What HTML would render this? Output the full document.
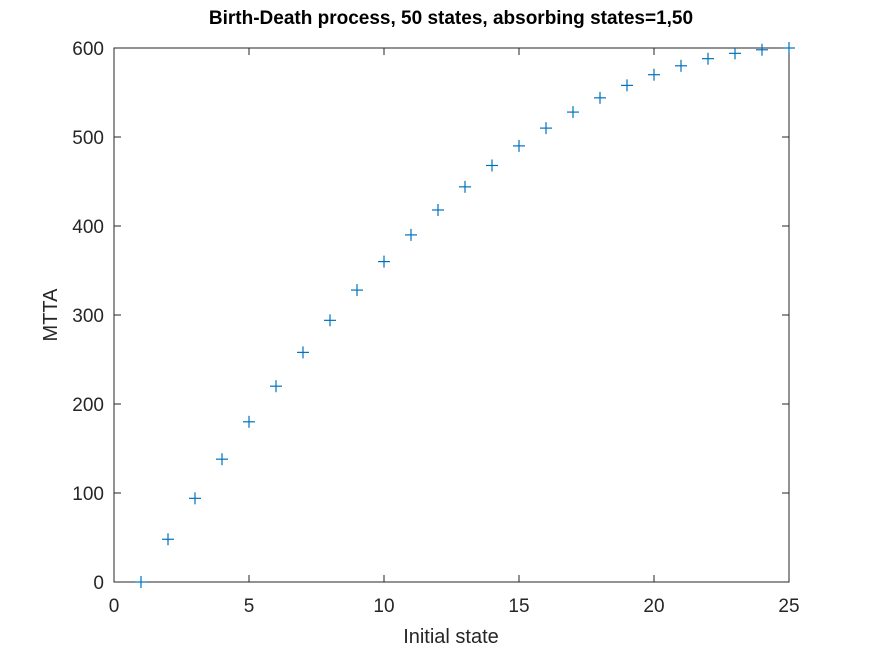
<!DOCTYPE html>
<html><head><meta charset="utf-8"><style>
body{margin:0;background:#fff;}
svg{font-family:"Liberation Sans",sans-serif;display:block;}
</style></head><body>
<svg id="c" width="872" height="654"></svg>
<script>
const states=[1,2,3,4,5,6,7,8,9,10,11,12,13,14,15,16,17,18,19,20,21,22,23,24,25];
const mtta=[0,48,94,138,180,220,258,294,328,360,390,418,444,468,490,510,528,544,558,570,580,588,594,598,600];
const xTicks=[0,5,10,15,20,25];
const yTicks=[0,100,200,300,400,500,600];
const L=114,R=789,T=48,B=582;
const sx=v=>L+(v-0)/(25-0)*(R-L);
const sy=v=>B-(v-0)/(600-0)*(B-T);
const svg=document.getElementById('c');
const NS='http://www.w3.org/2000/svg';
function mk(tag,attrs,parent){const e=document.createElementNS(NS,tag);for(const k in attrs)e.setAttribute(k,attrs[k]);(parent||svg).appendChild(e);return e;}
let box=mk('rect',{x:L,y:T,width:R-L,height:B-T,fill:'#fff',stroke:'#262626','stroke-width':1});


xTicks.forEach(t=>{
  const x=sx(t);
  mk('line',{x1:x,y1:B,x2:x,y2:B-7,stroke:'#262626'});
  mk('line',{x1:x,y1:T,x2:x,y2:T+7,stroke:'#262626'});
  const tx=mk('text',{x:x,y:B+30,'text-anchor':'middle','font-size':19,fill:'#262626'});
  tx.textContent=t;
  
  
});
yTicks.forEach(t=>{
  const y=sy(t);
  mk('line',{x1:L,y1:y,x2:L+7,y2:y,stroke:'#262626'});
  mk('line',{x1:R,y1:y,x2:R-7,y2:y,stroke:'#262626'});
  const tx=mk('text',{x:L-10,y:y+7,'text-anchor':'end','font-size':19,fill:'#262626'});
  tx.textContent=t;
  
  
});
states.forEach((s,i)=>{
  const x=sx(s),y=sy(mtta[i]);
  const g=mk('g',{stroke:'#0072BD','stroke-width':1.2});
  
  
  mk('line',{x1:x-6,y1:y,x2:x+6,y2:y},g);
  mk('line',{x1:x,y1:y-6,x2:x,y2:y+6},g);
});
let t=mk('text',{x:451,y:24,'text-anchor':'middle','font-size':19,'font-weight':'bold',fill:'#000'});
t.textContent='Birth-Death process, 50 states, absorbing states=1,50';


let xl=mk('text',{x:451,y:643,'text-anchor':'middle','font-size':20,fill:'#262626'});
xl.textContent='Initial state';


let yl=mk('text',{x:57,y:315,'text-anchor':'middle','font-size':20,fill:'#262626',transform:'rotate(-90 57 315)'});
yl.textContent='MTTA';


</script>
</body></html>
